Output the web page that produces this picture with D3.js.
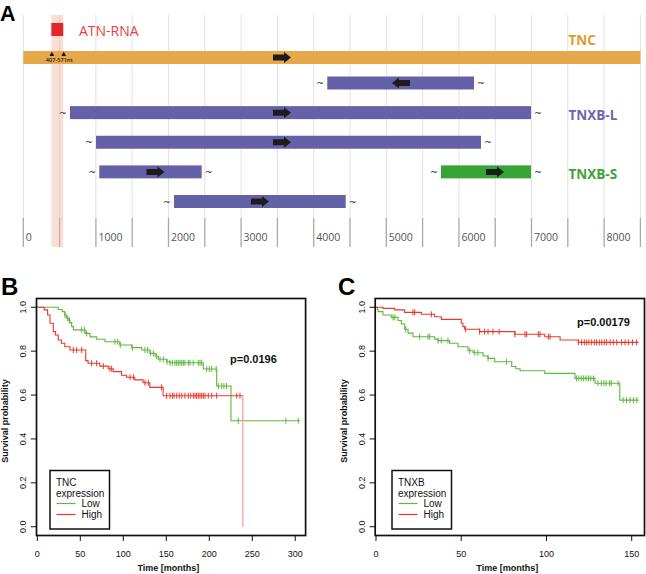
<!DOCTYPE html>
<html><head><meta charset="utf-8">
<script src="https://cdn.jsdelivr.net/npm/d3@7"></script>
<style>body{margin:0;background:#fff} svg{display:block}</style>
</head><body>
<svg id="chart" width="646" height="574"></svg>
<script>
// ---------- Panel A data (nucleotide positions) ----------
const axisTicks = d3.range(0, 8501, 500);
const axisLabels = [0,1000,2000,3000,4000,5000,6000,7000,8000];
const tncSpan = [0, 8500];
const tncArrow = 3563;
const atnRegion = [407, 571];
const atnSiteLabel = "407-571nt";
const rowNames = ["r1","r2","r3","r4","r5"];
const trRow   = ["r1","r2","r3","r4","r4","r5"];
const trStart = [4187, 643, 1001, 1047, 5753, 2076];
const trEnd   = [6208, 6993, 6304, 2457, 6993, 4441];
const trArrow = [5202, 3563, 3563, 1821, 6497, 3260];
const trDir   = [-1, 1, 1, 1, 1, 1];
const trType  = ["L","L","L","L","S","L"];
const geneLabels = ["TNC","TNXB-L","TNXB-S"];

// ---------- Panel B data: TNC expression ----------
const bLowT = [0,24.4,29,32,34,36,38,40,42,55.5,61.3,69,78.7,96,109.8,121.4,131,137,140.7,150.4,154,193,208.6,225.2];
const bLowS = [1,0.99,0.98,0.965,0.95,0.94,0.93,0.912,0.897,0.881,0.865,0.854,0.843,0.828,0.816,0.805,0.79,0.777,0.763,0.752,0.747,0.719,0.641,0.483];
const bLowEnd = 305.5;
const bLowCens = [32.2,35.5,37.5,51.6,55,57.4,90.3,93.5,96.5,110.5,125.2,128.3,131.5,134.9,138.8,142.7,146.5,150.8,154.3,157,160.1,162.1,164,166,168,169.8,171.7,175.6,177.5,181.4,187.2,189.2,191.2,197,200,202.8,208,210.5,214.4,217,220,233.7,289,303.5];
const bHighT = [0,8,12,14.8,18.6,21,24.4,28,32,38,56.3,59,72.7,82.4,88.2,97.9,103.7,113.4,123,130.8,146.3,239];
const bHighS = [1,0.988,0.965,0.927,0.889,0.874,0.851,0.836,0.82,0.805,0.757,0.745,0.732,0.72,0.707,0.69,0.681,0.669,0.656,0.635,0.597,0];
const bHighEnd = 239;
const bHighCens = [41.9,45.8,51.6,63.2,69,76.8,84.5,86.5,107.8,111.7,125.2,129.1,144.6,150.4,154.3,157,159,162.1,165.1,168,171.7,175.6,178.4,181.4,183.4,185.3,187.2,189.2,191.2,193,195,198.8,202.8,208.6,231.9,235.7];
const bTicksX = [0,50,100,150,200,250,300];

// ---------- Panel C data: TNXB expression ----------
const cLowT = [0,0.8,1.2,4.1,9,12.9,14.9,16.8,18.8,21.7,34.4,36.4,43.2,48.1,54,56.9,62.8,65.7,69.6,79.6,82,84.5,99,116.7,128.5,143];
const cLowS = [1,0.99,0.98,0.965,0.954,0.94,0.924,0.9,0.882,0.866,0.855,0.848,0.836,0.82,0.802,0.793,0.778,0.767,0.752,0.73,0.72,0.711,0.699,0.676,0.654,0.577];
const cLowEnd = 154;
const cLowCens = [10,11,17.4,25.6,30.5,31.5,36.4,38.3,42.2,55,57.9,59.8,65.7,76.5,117.6,119,120.4,121.8,123.2,124.6,126,127.6,130.2,132.2,133.7,135,137,138,142,145,147,149,151,153];
const cHighT = [0,4.1,11,16.8,26.6,34.4,38.3,50,51,52,60.8,81.5,99,108,118.7];
const cHighS = [1,0.995,0.988,0.977,0.968,0.957,0.945,0.927,0.912,0.9,0.889,0.877,0.866,0.851,0.84];
const cHighEnd = 154;
const cHighCens = [21.7,22.7,32.5,52.6,60.8,63.7,65.7,68.6,72.2,81.5,87.4,88.4,95.2,96.2,101.1,102.1,118.7,120.6,122.2,123.6,124.9,126.5,128.1,129.4,131,132.4,133.9,135.3,137.3,139.2,141.2,144.1,146.1,148,150.4,152.9];
const cTicksX = [0,50,100,150];
const yTicks = [0,0.2,0.4,0.6,0.8,1.0];

const svg = d3.select("#chart");
const fA = "'Open Sans', sans-serif";
const fR = "'Liberation Sans', Arial, Helvetica, sans-serif";

// ================= Panel A =================
const gA = svg.append("g");
const xA = d3.scaleLinear().domain([0, 8000]).range([23.3, 604.1]);
const yRow = d3.scalePoint().domain(rowNames).range([83, 201.5]);
const tncY = 57.5, barH = 13, gridTop = 15, tickTop = 218, tickBot = 247;

gA.selectAll("line.grid").data(axisTicks).join("line")
  .attr("x1", d => xA(d)).attr("x2", d => xA(d))
  .attr("y1", gridTop).attr("y2", tickTop)
  .attr("stroke", "#e2e2e2").attr("stroke-width", 1);
gA.selectAll("line.tk").data(axisTicks).join("line")
  .attr("x1", d => xA(d)).attr("x2", d => xA(d))
  .attr("y1", tickTop).attr("y2", tickBot)
  .attr("stroke", "#a8a8a8").attr("stroke-width", 1.3);
gA.selectAll("text.tl").data(axisLabels).join("text")
  .attr("x", d => xA(d) + 2.5).attr("y", 241)
  .attr("font-family", fA).attr("font-size", 10.5).attr("fill", "#555")
  .text(d => d);

// highlight band
gA.append("rect").attr("x", xA(atnRegion[0]) - 1.5).attr("y", gridTop)
  .attr("width", xA(atnRegion[1]) - xA(atnRegion[0]))
  .attr("height", tickBot - gridTop)
  .attr("fill", "#f2b5a5").attr("opacity", 0.45);
gA.append("rect").attr("x", xA(atnRegion[0]) - 1.5).attr("y", 23)
  .attr("width", xA(atnRegion[1]) - xA(atnRegion[0])).attr("height", 13)
  .attr("fill", "#e3262a");
gA.append("text").attr("x", 79).attr("y", 35.5)
  .attr("font-family", fA).attr("font-size", 14).attr("fill", "#e8403d")
  .text("ATN-RNA");

// TNC bar
gA.append("rect").attr("x", xA(tncSpan[0])).attr("y", tncY - barH/2)
  .attr("width", xA(tncSpan[1]) - xA(tncSpan[0])).attr("height", barH)
  .attr("fill", "#e6a84b");
function arrowPath(cx, cy, dir) {
  const p = [[-9,-3],[2,-3],[2,-5.5],[9,0],[2,5.5],[2,3],[-9,3]];
  return "M" + p.map(q => [cx + dir*q[0], cy + q[1]].join(",")).join("L") + "Z";
}
gA.append("path").attr("d", arrowPath(xA(tncArrow), tncY, 1)).attr("fill", "#1c1c1c");
// site triangles
gA.selectAll("path.tri").data(atnRegion).join("path")
  .attr("d", d => { const x = xA(d) - 1; return `M${x-2.3},56L${x+2.3},56L${x},51.8Z`; })
  .attr("fill", "#111");
gA.append("text").attr("x", xA(atnRegion[0]) - 7).attr("y", 62.3)
  .attr("font-family", fA).attr("font-size", 5.6).attr("font-weight", 600).attr("fill", "#222")
  .text(atnSiteLabel);

// transcripts
const colType = {L: "#6561a9", S: "#37a536"};
trStart.forEach((s, i) => {
  const cy = yRow(trRow[i]);
  const x0 = xA(s), x1 = xA(trEnd[i]);
  gA.append("rect").attr("x", x0).attr("y", cy - barH/2)
    .attr("width", x1 - x0).attr("height", barH).attr("fill", colType[trType[i]]);
  gA.append("path").attr("d", arrowPath(xA(trArrow[i]), cy, trDir[i])).attr("fill", "#1c1c1c");
  [x0 - 7, x1 + 7].forEach(tx => {
    gA.append("text").attr("x", tx).attr("y", cy + 3)
      .attr("text-anchor", "middle").attr("font-family", "'DejaVu Sans', sans-serif")
      .attr("font-size", 9).attr("fill", "#111").text("~");
  });
});
// gene labels
const labelY = [45, 120, 179];
const labelCol = ["#dc9c2e", "#6a66ab", "#3aa43a"];
gA.selectAll("text.gl").data(geneLabels).join("text")
  .attr("x", 568.5).attr("y", (d, i) => labelY[i])
  .attr("font-family", fA).attr("font-weight", 700).attr("font-size", 13.5)
  .attr("fill", (d, i) => labelCol[i]).text(d => d);

// ================= KM panels =================
function stepAt(T, S, t) { let v = S[0]; for (let i = 0; i < T.length; i++) if (T[i] <= t) v = S[i]; return v; }

function kmPanel(opt) {
  const g = svg.append("g");
  const x = d3.scaleLinear().domain([0, opt.xmax]).range([opt.x0, opt.x1]);
  const y = d3.scaleLinear().domain([-0.04, 1.04]).range([535.5, 298.5]);
  const line = d3.line().x(d => x(d[0])).y(d => y(d[1])).curve(d3.curveStepAfter);
  opt.series.forEach(s => {
    let T = s.T, S = s.S;
    const lastS = S[S.length - 1];
    if (lastS === 0) {
      // final drop to zero drawn lighter, as in the reference
      T = T.slice(0, -1); S = S.slice(0, -1);
      const prev = S[S.length - 1], tEnd = s.T[s.T.length - 1];
      g.append("line").attr("x1", x(tEnd)).attr("x2", x(tEnd))
        .attr("y1", y(prev)).attr("y2", y(0))
        .attr("stroke", "#f0a49a").attr("stroke-width", 1.3);
    }
    const pts = T.map((t, i) => [t, S[i]]);
    pts.push([s.end, S[S.length - 1]]);
    g.append("path").attr("d", line(pts)).attr("fill", "none")
      .attr("stroke", s.col).attr("stroke-width", 1.1);
    g.selectAll(null).data(s.cens).join("line")
      .attr("x1", d => x(d)).attr("x2", d => x(d))
      .attr("y1", d => y(stepAt(s.T, s.S, d)) - 3)
      .attr("y2", d => y(stepAt(s.T, s.S, d)) + 3)
      .attr("stroke", s.col).attr("stroke-width", 1);
  });
  // box
  g.append("rect").attr("x", opt.x0 - 0.8).attr("y", 298.5)
    .attr("width", opt.x1 - opt.x0 + 0.8).attr("height", 237)
    .attr("fill", "none").attr("stroke", "#111").attr("stroke-width", 1.7);
  // y axis
  g.selectAll(null).data(yTicks).join("line")
    .attr("x1", opt.x0 - 0.8).attr("x2", opt.x0 - 6.5)
    .attr("y1", d => y(d)).attr("y2", d => y(d)).attr("stroke", "#111");
  g.selectAll(null).data(yTicks).join("text")
    .attr("transform", d => `translate(${opt.x0 - 11.5},${y(d)}) rotate(-90)`)
    .attr("text-anchor", "middle").attr("font-family", fR).attr("font-size", 9).attr("fill", "#111")
    .text(d => d.toFixed(1));
  g.append("text")
    .attr("transform", `translate(${opt.x0 - 29.5},${(298.5 + 535.5) / 2 + 4}) rotate(-90)`)
    .attr("text-anchor", "middle").attr("font-family", fR).attr("font-size", 9)
    .attr("font-weight", 700).attr("fill", "#111").text("Survival probability");
  // x axis
  g.selectAll(null).data(opt.ticks).join("line")
    .attr("x1", d => x(d)).attr("x2", d => x(d)).attr("y1", 535.5).attr("y2", 541).attr("stroke", "#111");
  g.selectAll(null).data(opt.ticks).join("text")
    .attr("x", d => x(d)).attr("y", 557).attr("text-anchor", "middle")
    .attr("font-family", fR).attr("font-size", 9).attr("fill", "#111").text(d => d);
  g.append("text").attr("x", (opt.x0 + opt.x1) / 2 - 3).attr("y", 570.5).attr("text-anchor", "middle")
    .attr("font-family", fR).attr("font-size", 9).attr("font-weight", 700).attr("fill", "#111")
    .text("Time [months]");
  // p value
  g.append("text").attr("x", opt.px).attr("y", opt.py)
    .attr("font-family", fR).attr("font-size", 11).attr("font-weight", 700).attr("fill", "#111")
    .text(opt.pval);
  // legend
  const lx = opt.lx, ly = 470.5;
  g.append("rect").attr("x", lx).attr("y", ly).attr("width", 59.5).attr("height", 58.5)
    .attr("fill", "#fff").attr("stroke", "#111").attr("stroke-width", 1.5);
  g.append("text").attr("x", lx + 6).attr("y", ly + 15.5).attr("font-family", fR)
    .attr("font-size", 10).attr("fill", "#111").text(opt.legTitle);
  g.append("text").attr("x", lx + 6).attr("y", ly + 26.5).attr("font-family", fR)
    .attr("font-size", 10).attr("fill", "#111").text("expression");
  opt.series.forEach((s, i) => {
    const yy = ly + 33 + i * 11;
    g.append("line").attr("x1", lx + 6.5).attr("x2", lx + 25.5).attr("y1", yy).attr("y2", yy)
      .attr("stroke", s.col).attr("stroke-width", 1.2);
    g.append("text").attr("x", lx + 31.5).attr("y", yy + 3.8).attr("font-family", fR)
      .attr("font-size", 10).attr("fill", "#111").text(s.name);
  });
  g.append("text").attr("x", opt.letterX).attr("y", 295).attr("font-family", fR)
    .attr("font-size", 24).attr("font-weight", 700).attr("fill", "#000").text(opt.letter);
}

const green = "#5db83c", red = "#e8392c";
kmPanel({ x0: 37.3, x1: 305.6, xmax: 312, ticks: bTicksX, pval: "p=0.0196", px: 230, py: 363,
  lx: 50, legTitle: "TNC", letter: "B", letterX: 1,
  series: [
    {name: "Low", T: bLowT, S: bLowS, end: bLowEnd, cens: bLowCens, col: green},
    {name: "High", T: bHighT, S: bHighS, end: bHighEnd, cens: bHighCens, col: red}
  ]});
kmPanel({ x0: 376, x1: 644.5, xmax: 157.5, ticks: cTicksX, pval: "p=0.00179", px: 577, py: 326,
  lx: 392, legTitle: "TNXB", letter: "C", letterX: 338,
  series: [
    {name: "Low", T: cLowT, S: cLowS, end: cLowEnd, cens: cLowCens, col: green},
    {name: "High", T: cHighT, S: cHighS, end: cHighEnd, cens: cHighCens, col: red}
  ]});

svg.append("text").attr("x", 0).attr("y", 20.5).attr("font-family", fR)
  .attr("font-size", 21.5).attr("font-weight", 700).attr("fill", "#000").text("A");
</script>
</body></html>
